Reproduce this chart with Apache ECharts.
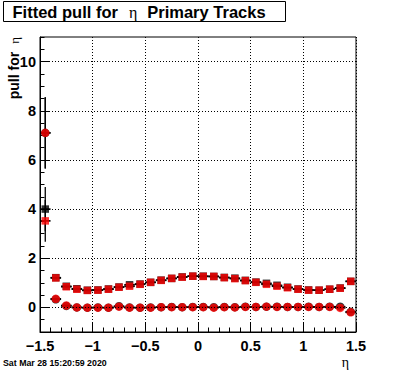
<!DOCTYPE html>
<html>
<head>
<meta charset="utf-8">
<script src="https://cdn.jsdelivr.net/npm/echarts@6/dist/echarts.min.js"></script>
<style>
html,body{margin:0;padding:0;background:#fff;}
#c{width:396px;height:372px;}
</style>
</head>
<body>
<div id="c"></div>
<script>
// ---- data ----
const eta = [-1.45,-1.35,-1.25,-1.15,-1.05,-0.95,-0.85,-0.75,-0.65,-0.55,-0.45,-0.35,-0.25,-0.15,-0.05,
             0.05,0.15,0.25,0.35,0.45,0.55,0.65,0.75,0.85,0.95,1.05,1.15,1.25,1.35,1.45];
const etaHalfWidth = 0.05;
const blackMean  = [7.10,0.33,0.06,0.00,-0.01,0.00,-0.01,0.05,0.00,-0.01,0.00,0.01,0.02,0.01,0.02,
                    0.02,0.01,0.02,0.01,0.03,0.02,0.03,0.03,0.02,0.02,0.03,0.02,0.03,0.03,-0.18];
const blackMeanErr = [1.45,0.03,0.02,0.02,0.02,0.02,0.02,0.02,0.02,0.02,0.02,0.02,0.02,0.02,0.02,
                      0.02,0.02,0.02,0.02,0.02,0.02,0.02,0.02,0.02,0.02,0.02,0.02,0.02,0.02,0.03];
const blackSigma = [4.00,1.21,0.86,0.76,0.70,0.71,0.75,0.83,0.92,0.95,1.02,1.11,1.18,1.24,1.27,
                    1.27,1.26,1.22,1.19,1.10,1.03,0.98,0.90,0.82,0.75,0.71,0.70,0.74,0.79,1.06];
const blackSigmaErr = [0.90,0.03,0.02,0.02,0.02,0.02,0.02,0.02,0.02,0.02,0.02,0.02,0.02,0.02,0.02,
                       0.02,0.02,0.02,0.02,0.02,0.02,0.02,0.02,0.02,0.02,0.02,0.02,0.02,0.02,0.03];
const redMean  = [7.10,0.35,0.08,0.00,-0.01,-0.01,-0.01,0.03,-0.01,-0.01,-0.01,0.01,0.01,0.01,0.01,
                  0.01,-0.01,0.01,0.00,0.02,0.02,0.03,0.02,0.02,0.02,0.02,0.02,0.02,-0.02,-0.20];
const redMeanErr = [1.45,0.03,0.02,0.02,0.02,0.02,0.02,0.02,0.02,0.02,0.02,0.02,0.02,0.02,0.02,
                    0.02,0.02,0.02,0.02,0.02,0.02,0.02,0.02,0.02,0.02,0.02,0.02,0.02,0.02,0.03];
const redSigma = [3.52,1.20,0.84,0.74,0.69,0.70,0.74,0.82,0.86,0.94,1.02,1.10,1.18,1.23,1.27,
                  1.26,1.26,1.21,1.17,1.09,1.02,0.94,0.86,0.80,0.74,0.70,0.70,0.74,0.78,1.06];
const redSigmaErr = [0.85,0.03,0.02,0.02,0.02,0.02,0.02,0.02,0.02,0.02,0.02,0.02,0.02,0.02,0.02,
                     0.02,0.02,0.02,0.02,0.02,0.02,0.02,0.02,0.02,0.02,0.02,0.02,0.02,0.02,0.03];
const yMajorTicks = [0,2,4,6,8,10];
const titleParts = ['Fitted pull for', 'η', 'Primary Tracks'];
const yTitleParts = ['pull for', 'η'];
const xTitle = 'η';
const dateText = 'Sat Mar 28 15:20:59 2020';

// ---- helpers ----
const FONT = '"Liberation Sans", Arial, Helvetica, sans-serif';
const SERIF = '"Liberation Serif", "DejaVu Serif", serif';
const fmt = v => { const r = Math.round(v*100)/100; return r === 0 ? '0' : String(r).replace('-', '\u2212'); };
const pts = (ys, errs) => eta.map((x,i) => [x, ys[i], etaHalfWidth, errs[i]]);
const sc = (ys) => eta.map((x,i) => [x, ys[i]]);

function errItem(params, api) {
  const x = api.value(0), y = api.value(1), ex = api.value(2), ey = api.value(3);
  const l = api.coord([x-ex, y]), r = api.coord([x+ex, y]);
  const t = api.coord([x, y+ey]), b = api.coord([x, y-ey]);
  return {type:'group', children:[
    {type:'line', shape:{x1:l[0],y1:l[1],x2:r[0],y2:r[1]}, style:{stroke:'#000', lineWidth:1.6}},
    {type:'line', shape:{x1:t[0],y1:t[1],x2:b[0],y2:b[1]}, style:{stroke:'#000', lineWidth:1.3}}
  ]};
}
const errSeries = (data, z) => ({type:'custom', renderItem: errItem, data, encode:{x:0,y:1},
  xAxisIndex:0, yAxisIndex:0, z, silent:true, animation:false, clip:false});

const chart = echarts.init(document.getElementById('c'), null, {renderer:'svg', width:396, height:372});
const gridLine = {color:'#000', width:1, type:[1,2]};
const LBL = {color:'#000', fontSize:14.5, fontWeight:'bold', fontFamily:FONT};

chart.setOption({
  animation:false,
  backgroundColor:'#fff',
  grid:{left:40, right:40, top:37, bottom:40, show:true, borderColor:'#000', borderWidth:1, backgroundColor:'transparent'},
  xAxis:{type:'value', min:-1.5, max:1.5, interval:0.5,
    axisLine:{show:true, onZero:false, lineStyle:{color:'#000', width:1}},
    axisTick:{show:true, inside:true, length:9, lineStyle:{color:'#000', width:1}},
    minorTick:{show:true, splitNumber:5, length:4.5, lineStyle:{color:'#000', width:1}},
    axisLabel:Object.assign({show:true, formatter:fmt, margin:6, showMinLabel:true, showMaxLabel:true}, LBL),
    splitLine:{show:true, lineStyle:gridLine}
  },
  yAxis:[
    {type:'value', min:-1, max:11, interval:0.5, position:'left', offset:0,
      axisLine:{show:true, onZero:false, lineStyle:{color:'#000', width:1}},
      axisTick:{show:true, inside:true, length:4.5, lineStyle:{color:'#000', width:1}},
      axisLabel:{show:false}, splitLine:{show:false}},
    {type:'value', min:-1, max:11, interval:0.5, position:'left', offset:0,
      axisLine:{show:false, onZero:false},
      axisTick:{show:true, inside:true, length:9, customValues:yMajorTicks, lineStyle:{color:'#000', width:1}},
      axisLabel:Object.assign({show:true, customValues:yMajorTicks, formatter:fmt, margin:4}, LBL),
      splitLine:{show:false}}
  ],
  series:[
    {type:'line', data:[], xAxisIndex:0, yAxisIndex:0, z:1, silent:true,
      markLine:{silent:true, symbol:['none','none'], label:{show:false}, lineStyle:gridLine, animation:false,
        data: yMajorTicks.map(v => ({yAxis:v}))}},
    errSeries(pts(blackSigma, blackSigmaErr), 2),
    errSeries(pts(blackMean, blackMeanErr), 2),
    errSeries(pts(redSigma, redSigmaErr), 2),
    errSeries(pts(redMean, redMeanErr), 2),
    {type:'scatter', data:sc(blackMean), symbol:'circle', symbolSize:8.5, itemStyle:{color:'#000'}, z:3, silent:true},
    {type:'scatter', data:sc(blackSigma), symbol:'rect', symbolSize:7.5, itemStyle:{color:'#000'}, z:3, silent:true},
    {type:'scatter', data:sc(redMean), symbol:'circle', symbolSize:8.5, itemStyle:{color:'#ff0000'}, z:4, silent:true},
    {type:'scatter', data:sc(redSigma), symbol:'rect', symbolSize:7.5, itemStyle:{color:'#ff0000'}, z:4, silent:true}
  ],
  graphic:[
    {type:'rect', left:3, top:1, shape:{width:282, height:20}, style:{fill:'#fff', stroke:'#000', lineWidth:1}, z:10},
    {type:'text', x:12.5, y:12, z:11, style:{
      text:'{b|'+titleParts[0]+'}{g|'+titleParts[1]+'}{b|'+titleParts[2]+'}',
      verticalAlign:'middle', align:'left',
      rich:{ b:{fontFamily:FONT, fontWeight:'bold', fontSize:16.5, fill:'#000'},
             g:{fontFamily:SERIF, fontSize:16, fill:'#000', padding:[0,10,0,11]} }
    }},
    {type:'text', x:14, y:37, rotation:Math.PI/2, z:11, style:{
      text:'{b|'+yTitleParts[0]+'}{g|'+yTitleParts[1]+'}',
      align:'right', verticalAlign:'middle',
      rich:{ b:{fontFamily:FONT, fontWeight:'bold', fontSize:14, fill:'#000'},
             g:{fontFamily:SERIF, fontSize:13, fill:'#000', padding:[0,0,0,8]} }
    }},
    {type:'text', x:345.5, y:362, z:11, style:{text:xTitle, fontFamily:SERIF, fontSize:14, fill:'#000', align:'center', verticalAlign:'middle'}},
    {type:'text', x:3, y:363, z:11, style:{text:dateText, fontFamily:FONT, fontWeight:'bold', fontSize:8.8, fill:'#000', align:'left', verticalAlign:'middle'}}
  ]
});
</script>
</body>
</html>
